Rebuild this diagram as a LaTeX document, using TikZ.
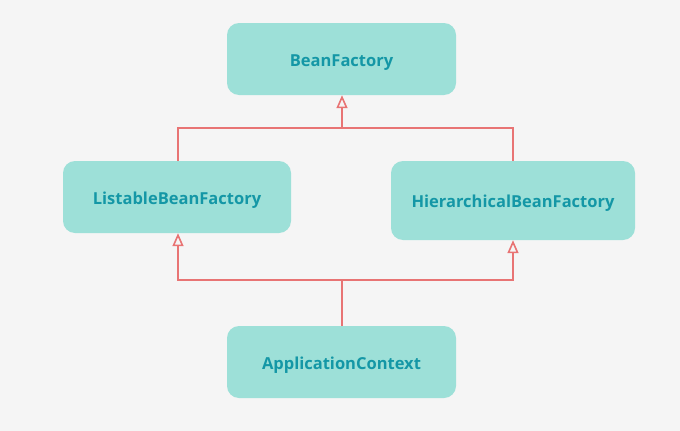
\documentclass[tikz,border=0pt]{standalone}
\usepackage{fontspec}
\setmainfont{Open Sans}
\usetikzlibrary{arrows.meta}
\definecolor{bg}{HTML}{F5F5F5}
\definecolor{boxfill}{HTML}{9DE0D8}
\definecolor{boxtext}{HTML}{1497A6}
\definecolor{linkc}{HTML}{E87474}
\tikzset{
  cls/.style={fill=boxfill, draw=none, rounded corners=12pt, font=\bfseries\fontsize{16.5}{19}\selectfont, text=boxtext, inner sep=0pt, text height=14pt, text depth=0pt},
  link/.style={draw=linkc, line width=1.6pt},
  inh/.style={link, -{Triangle[open, length=13pt, width=11pt, line width=1.6pt]}}
}
\begin{document}
\begin{tikzpicture}[x=1pt,y=-1pt]
\useasboundingbox[fill=bg] (0,0) rectangle (680,431);
\node[cls, minimum width=229pt, minimum height=72pt] (bf) at (341.5,59) {BeanFactory};
\node[cls, minimum width=228pt, minimum height=72pt] (lbf) at (177,197) {ListableBeanFactory};
\node[cls, minimum width=244pt, minimum height=79pt] (hbf) at (513,200.5) {HierarchicalBeanFactory};
\node[cls, minimum width=229pt, minimum height=72pt] (ac) at (341.5,362) {ApplicationContext};
\coordinate (top) at (342,128);
\coordinate (bot) at (342,280);
\draw[link] (lbf.north -| 178,0) |- (top) -| (hbf.north -| 513,0);
\draw[inh] (top) -- (bf.south -| top);
\draw[link] (ac.north -| bot) -- (bot);
\draw[inh] (bot) -| (lbf.south -| 178,0);
\draw[inh] (bot) -| (hbf.south -| 513,0);
\end{tikzpicture}
\end{document}
